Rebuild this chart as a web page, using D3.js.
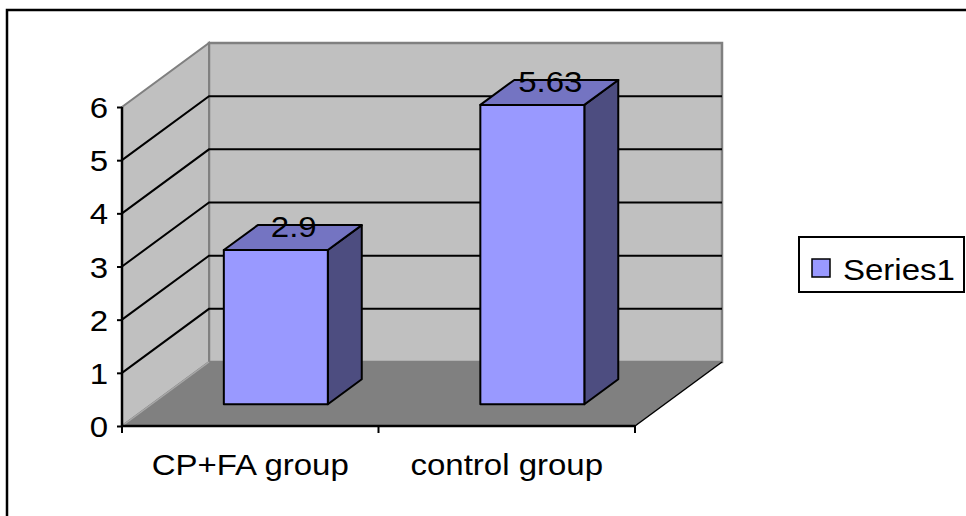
<!DOCTYPE html>
<html>
<head>
<meta charset="utf-8">
<script src="https://cdn.jsdelivr.net/npm/d3@7/dist/d3.min.js"></script>
<style>
  html, body { margin: 0; padding: 0; background: #fff; }
  svg { display: block; }
  text { font-family: "Liberation Sans", Arial, sans-serif; fill: #000; }
</style>
</head>
<body>
<svg id="chart" width="966" height="516"></svg>
<script>
// Chart data
const categories = ["CP+FA group", "control group"];
const values = [2.9, 5.63];
const yTicks = [0, 1, 2, 3, 4, 5, 6];
const seriesName = "Series1";

const svg = d3.select("#chart");

// Front plane of the 3D plot box
const x = d3.scaleBand().domain(categories).range([122, 635]).paddingInner(0).paddingOuter(0);
const y = d3.scaleLinear().domain([0, 6]).range([426, 107]);

// Oblique depth projection: z runs 0 (front) to 1 (back wall)
const depthX = 87, depthY = -64;
const P = (px, v, z) => [px + z * depthX, y(v) + z * depthY];
const poly = pts => "M" + pts.map(p => p.join(",")).join("L") + "Z";

const x0 = x.range()[0], x1 = x.range()[1];
const yMin = y.domain()[0], yMax = y.domain()[1];

const colors = {
  wall: "#c0c0c0",
  floor: "#808080",
  edge: "#808080",
  front: "#9999ff",
  top: "#7474c2",
  side: "#4d4d80"
};

// Outer chart border
svg.append("rect")
  .attr("x", 7).attr("y", 10).attr("width", 1000).attr("height", 600)
  .attr("fill", "none").attr("stroke", "#000").attr("stroke-width", 2.5);

// Back wall
svg.append("path")
  .attr("d", poly([P(x0, yMin, 1), P(x0, yMax, 1), P(x1, yMax, 1), P(x1, yMin, 1)]))
  .attr("fill", colors.wall).attr("stroke", colors.edge).attr("stroke-width", 2.5);

// Left side wall
svg.append("path")
  .attr("d", poly([P(x0, yMin, 0), P(x0, yMax, 0), P(x0, yMax, 1), P(x0, yMin, 1)]))
  .attr("fill", colors.wall).attr("stroke", colors.edge).attr("stroke-width", 2);

// Floor
svg.append("path")
  .attr("d", poly([P(x0, yMin, 0), P(x1, yMin, 0), P(x1, yMin, 1), P(x0, yMin, 1)]))
  .attr("fill", colors.floor).attr("stroke", "none");
svg.append("line")
  .attr("x1", P(x1, yMin, 0)[0]).attr("y1", P(x1, yMin, 0)[1])
  .attr("x2", P(x1, yMin, 1)[0]).attr("y2", P(x1, yMin, 1)[1])
  .attr("stroke", "#000").attr("stroke-width", 1.5);
svg.append("line")
  .attr("x1", P(x0, yMin, 0)[0]).attr("y1", P(x0, yMin, 0)[1])
  .attr("x2", P(x0, yMin, 1)[0]).attr("y2", P(x0, yMin, 1)[1])
  .attr("stroke", "#a8a8a8").attr("stroke-width", 1.5);

// Gridlines on the side and back walls
const gridTicks = yTicks.filter(t => t > yMin && t < yMax);
const grid = svg.append("g").attr("stroke", "#000").attr("stroke-width", 2).attr("fill", "none");
gridTicks.forEach(t => {
  grid.append("path").attr("d", "M" + [P(x0, t, 0), P(x0, t, 1), P(x1, t, 1)].map(p => p.join(",")).join("L"));
});

// Bars (front face, top, right side)
const zFront = 0.34, zBack = 0.73;
const barW = 104, barShift = -4;
const bars = svg.append("g").attr("stroke", "#000").attr("stroke-width", 2).attr("stroke-linejoin", "round");
categories.forEach((c, i) => {
  const v = values[i];
  const cx = x(c) + x.bandwidth() / 2 + barShift;
  const l = cx - barW / 2, r = cx + barW / 2;
  bars.append("path").attr("fill", colors.side)
    .attr("d", poly([P(r, 0, zFront), P(r, v, zFront), P(r, v, zBack), P(r, 0, zBack)]));
  bars.append("path").attr("fill", colors.top)
    .attr("d", poly([P(l, v, zFront), P(r, v, zFront), P(r, v, zBack), P(l, v, zBack)]));
  bars.append("path").attr("fill", colors.front)
    .attr("d", poly([P(l, 0, zFront), P(r, 0, zFront), P(r, v, zFront), P(l, v, zFront)]));
});

// Value labels above each bar
const fontSize = 30, stretch = 1.1;
categories.forEach((c, i) => {
  const v = values[i];
  const p = P(x(c) + x.bandwidth() / 2, v, 0.5);
  svg.append("text")
    .attr("transform", `translate(${p[0]},${p[1] - 3}) scale(${stretch},1)`)
    .attr("text-anchor", "middle")
    .attr("font-size", fontSize)
    .text(String(v));
});

// Y axis
const yAxis = svg.append("g").attr("transform", `translate(${x0},0)`)
  .call(d3.axisLeft(y).tickValues(yTicks).tickSize(5).tickFormat(d3.format("d")));
yAxis.select(".domain").attr("stroke", "#000").attr("stroke-width", 2.5).attr("d", `M0,${y(yMax)}V${y(yMin)}`);
yAxis.selectAll(".tick line").attr("stroke", "#000").attr("stroke-width", 2);
yAxis.selectAll(".tick text")
  .attr("x", 0).attr("dy", "0.35em")
  .attr("font-size", fontSize)
  .attr("font-family", "Liberation Sans, Arial, sans-serif")
  .attr("text-anchor", "end")
  .attr("transform", `translate(-14,0) scale(${stretch},1)`);

// X axis (category boundaries get tick marks)
const xAxisG = svg.append("g").attr("transform", `translate(0,${y(yMin)})`);
xAxisG.append("line").attr("x1", x0).attr("x2", x1).attr("y1", 0).attr("y2", 0)
  .attr("stroke", "#000").attr("stroke-width", 2.5);
const bounds = categories.map(c => x(c)).concat([x1]);
xAxisG.selectAll(".xt").data(bounds).join("line")
  .attr("x1", d => d).attr("x2", d => d).attr("y1", 0).attr("y2", 7)
  .attr("stroke", "#000").attr("stroke-width", 2);
xAxisG.selectAll(".xl").data(categories).join("text")
  .attr("transform", d => `translate(${x(d) + x.bandwidth() / 2},49) scale(${stretch},1)`)
  .attr("text-anchor", "middle")
  .attr("font-size", fontSize)
  .text(d => d);

// Legend
const lg = svg.append("g");
lg.append("rect").attr("x", 799).attr("y", 237).attr("width", 165).attr("height", 55)
  .attr("fill", "#fff").attr("stroke", "#000").attr("stroke-width", 2);
lg.append("rect").attr("x", 812).attr("y", 259).attr("width", 18).attr("height", 18)
  .attr("fill", colors.front).attr("stroke", "#000").attr("stroke-width", 1.5);
lg.append("text")
  .attr("transform", `translate(843,280) scale(${stretch},1)`)
  .attr("font-size", fontSize)
  .text(seriesName);
</script>
</body>
</html>
